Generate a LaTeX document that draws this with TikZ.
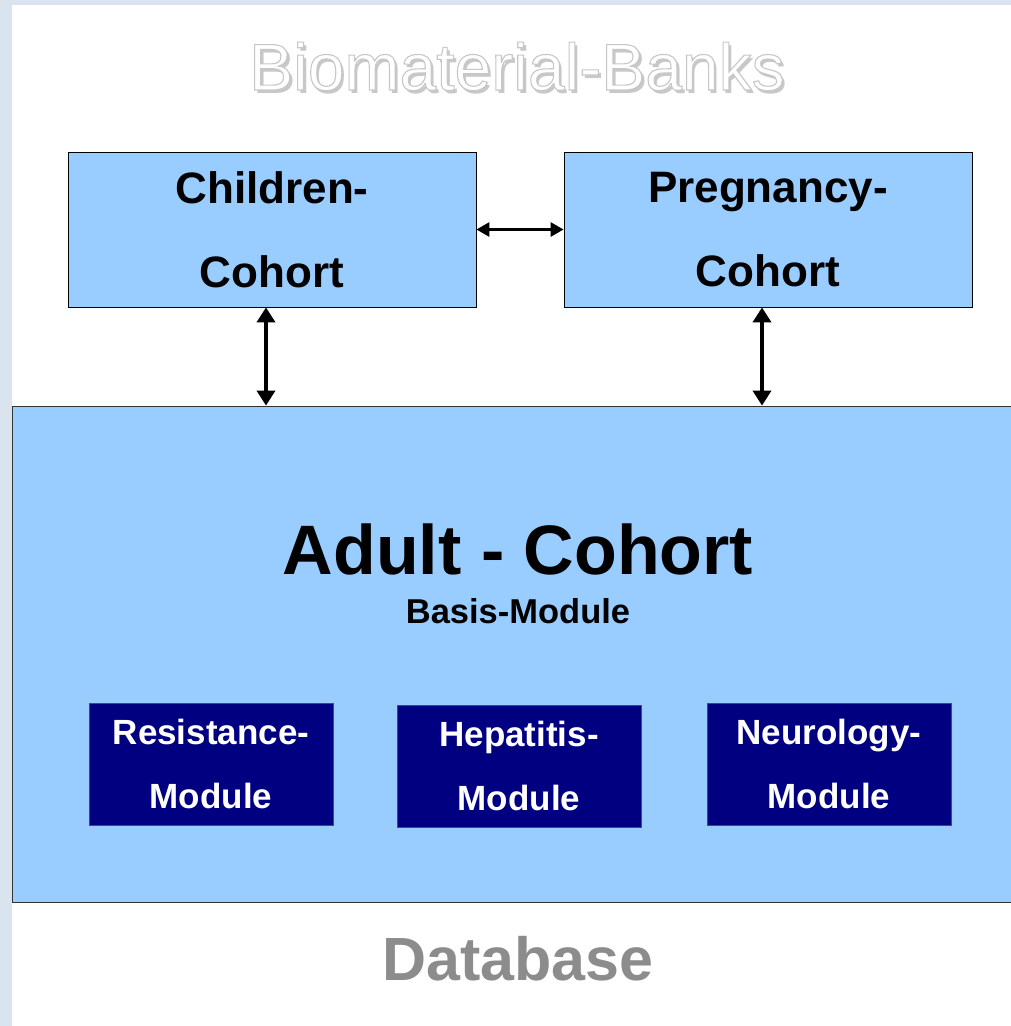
\documentclass[tikz,border=0pt]{standalone}
\usepackage{fontspec}
\setmainfont{Liberation Sans}
\usetikzlibrary{arrows.meta,calc}
\definecolor{lightblue}{HTML}{99CCFF}
\definecolor{navybox}{HTML}{000080}
\definecolor{stripcol}{HTML}{D9E4EE}
\definecolor{dbgray}{HTML}{8C8C8C}
\definecolor{shadowgray}{HTML}{C8C8C8}
\newcommand{\outlinetext}[1]{\special{pdf:literal direct 2 Tr 1.1 w 0.78 G}#1\special{pdf:literal direct 0 Tr}}
\begin{document}
\begin{tikzpicture}[x=1pt,y=-1pt,
  cohortbox/.style={draw=black, line width=0.8pt, fill=lightblue, minimum width=408pt, minimum height=155pt, inner sep=0pt, align=center, font=\fontsize{44}{84}\selectfont\bfseries},
  adultbox/.style={draw=black!80, line width=0.8pt, fill=lightblue, inner sep=0pt},
  modbox/.style={draw=black!70, line width=0.6pt, fill=navybox, text=white, minimum width=244pt, minimum height=122pt, inner sep=0pt, align=center, font=\fontsize{35}{64}\selectfont\bfseries},
  varr/.style={line width=3.6pt, {Triangle[width=18pt,length=15pt]}-{Triangle[width=18pt,length=15pt]}},
  harr/.style={line width=2.8pt, {Triangle[width=14pt,length=13pt]}-{Triangle[width=14pt,length=13pt]}},
  titlefont/.style={font=\fontsize{66}{70}\selectfont, anchor=base, inner sep=0pt}
]
\useasboundingbox (0,0) rectangle (1011,1026);
\clip (0,0) rectangle (1011,1026);
\fill[white] (0,0) rectangle (1011,1026);
\fill[stripcol] (0,0) rectangle (12,1026);
\fill[stripcol] (0,0) rectangle (1011,5);

% title
\node[titlefont, text=shadowgray] (titleshadow) at (520,93) {Biomaterial-Banks};
\node[titlefont, text=white] (title) at (517,90) {\outlinetext{Biomaterial-Banks}};

% cohort boxes
\node[cohortbox] (child) at (272,229.5) {Children-\\Cohort};
\node[cohortbox] (preg) at (768,229.5) {Pregnancy-\\Cohort};

% adult box
\node[adultbox, minimum width=1040pt, minimum height=496pt] (adult) at (532,654) {};
\node[anchor=base, inner sep=0pt, font=\fontsize{70}{72}\selectfont\bfseries] (adulttitle) at (518,574) {Adult - Cohort};
\node[anchor=base, inner sep=0pt, font=\fontsize{34.5}{36}\selectfont\bfseries] (basis) at (518,623) {Basis-Module};

% modules
\node[modbox] (res) at (211,764) {Resistance-\\Module};
\node[modbox] (hep) at (519,766) {Hepatitis-\\Module};
\node[modbox] (neu) at (829,764) {Neurology-\\Module};

% database
\node[anchor=base, inner sep=0pt, text=dbgray, font=\fontsize{61}{66}\selectfont\bfseries] (db) at (518,980) {Database};

% arrows
\draw[harr] (child.east) -- (preg.west);
\draw[varr] ([xshift=-6pt]child.south) -- ([xshift=-6pt]child.south |- adult.north);
\draw[varr] ([xshift=-6pt]preg.south) -- ([xshift=-6pt]preg.south |- adult.north);
\end{tikzpicture}
\end{document}
